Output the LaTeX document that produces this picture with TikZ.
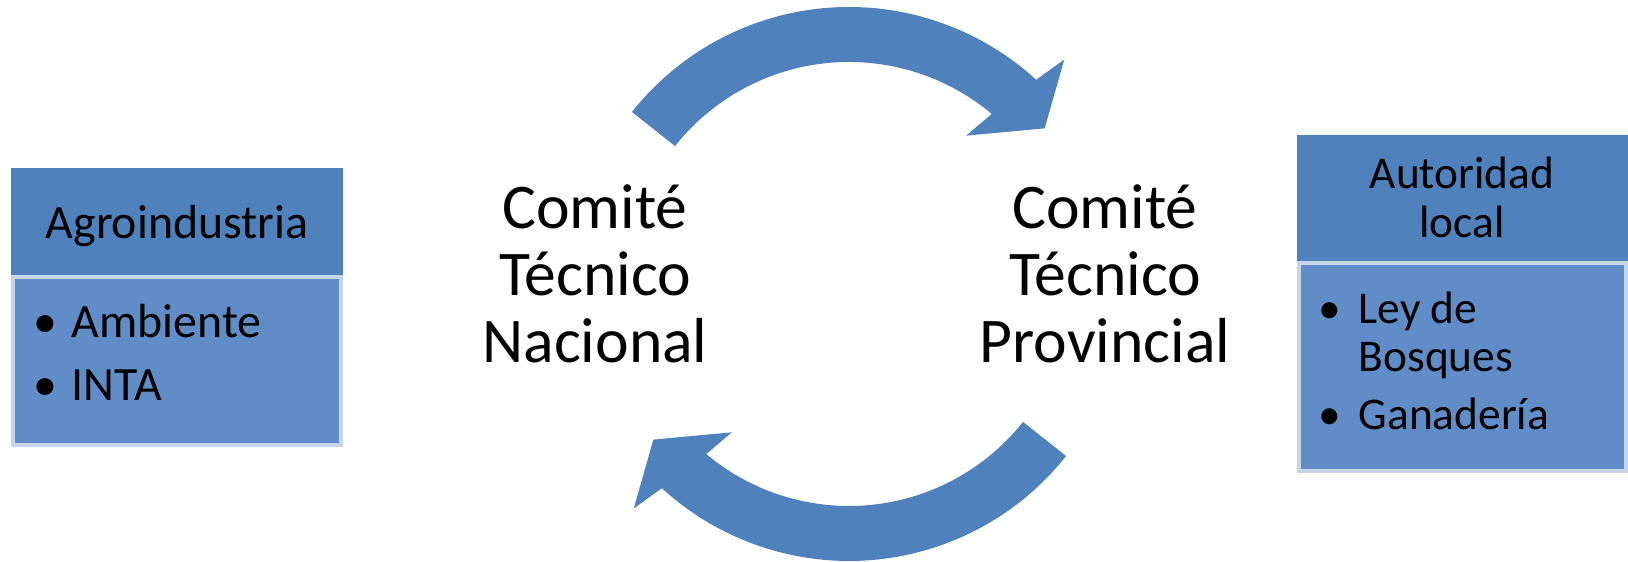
\documentclass[tikz,border=0pt]{standalone}
\usepackage{fontspec}
\setmainfont{Carlito}
\usetikzlibrary{positioning}
\definecolor{headblue}{RGB}{79,129,189}
\definecolor{bodyblue}{RGB}{96,141,199}
\definecolor{rimblue}{RGB}{200,212,232}

\begin{document}
\begin{tikzpicture}[x=0.01cm, y=0.01cm,
  head/.style={fill=headblue},
  body/.style={fill=bodyblue, draw=rimblue, line width=1.1pt},
  flow/.style={fill=headblue},
  title/.style={font=\fontsize{18.1}{19.1}\selectfont, align=center, inner sep=0pt},
  lefttxt/.style={font=\fontsize{13.6}{14}\selectfont, inner sep=0pt},
  righttxt/.style={font=\fontsize{12.9}{14}\selectfont, inner sep=0pt}]
\useasboundingbox (0,0) rectangle (1628,562);

% circular arrows
\foreach \rot in {0,180} {
  \fill[flow, shift={(849,278)}, rotate=\rot]
    (141.6:277) arc[start angle=141.6, end angle=47.5, radius=277]
    -- (46.2:311) -- (38.5:250) -- (51.7:189) -- (50:222)
    arc[start angle=50, end angle=141.6, radius=222] -- cycle;
}

% centre titles
\node[title, anchor=base] (nac) at (595,199) {Comité\\Técnico\\Nacional};
\node[title, anchor=base] (prov) at (1105,199) {Comité\\Técnico\\Provincial};

% left box
\fill[head] (11,394) rectangle (343,285);
\draw[body] (13,285) rectangle (341,117);
\node[lefttxt, anchor=base] (agro) at (177,323) {Agroindustria};
\node[lefttxt, anchor=base] (b1) at (45,224) {\textbullet};
\node[lefttxt, anchor=base west] (amb) at (71,224) {Ambiente};
\node[lefttxt, anchor=base] (b2) at (45,161) {\textbullet};
\node[lefttxt, anchor=base west] (inta) at (71,161) {INTA};

% right box
\fill[head] (1297,427) rectangle (1628,299);
\draw[body] (1299,299) rectangle (1626,91);
\node[righttxt, anchor=base] (aut) at (1462,373) {Autoridad};
\node[righttxt, anchor=base] (loc) at (1462,324) {local};
\node[righttxt, anchor=base] (b3) at (1330,238) {\textbullet};
\node[righttxt, anchor=base west] (ley) at (1358,238) {Ley de};
\node[righttxt, anchor=base west] (bos) at (1358,190) {Bosques};
\node[righttxt, anchor=base] (b4) at (1330,132) {\textbullet};
\node[righttxt, anchor=base west] (gan) at (1358,132) {Ganadería};
\end{tikzpicture}
\end{document}
